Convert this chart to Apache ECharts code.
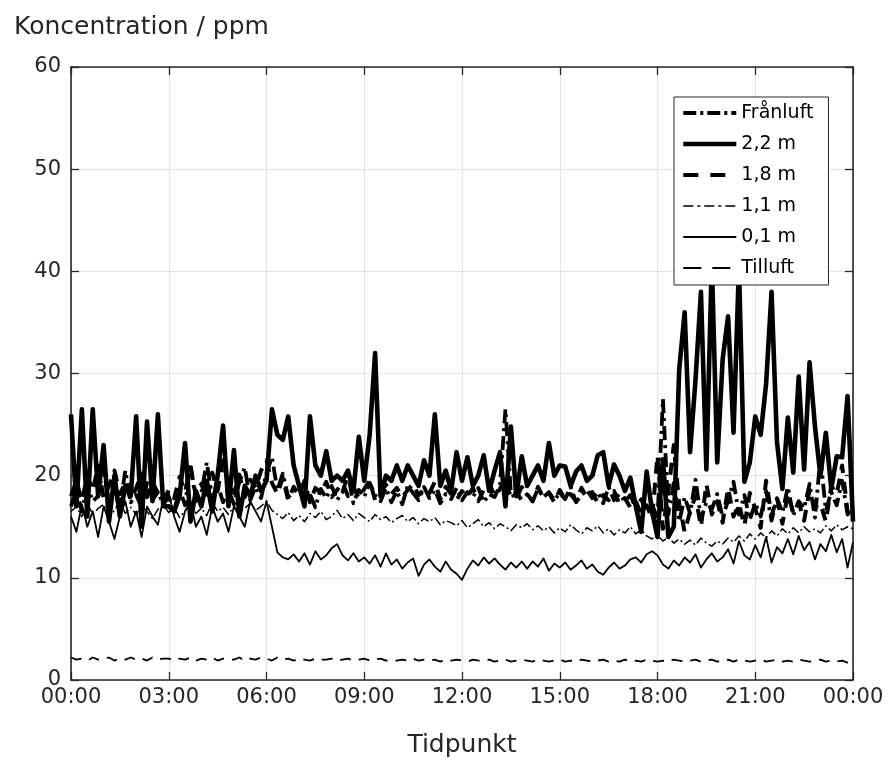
<!DOCTYPE html>
<html>
<head>
<meta charset="utf-8">
<script src="https://cdn.jsdelivr.net/npm/echarts@6/dist/echarts.min.js"></script>
<style>
html,body{margin:0;padding:0;background:#fff;}
#chart{width:888px;height:763px;}
</style>
</head>
<body>
<div id="chart"></div>
<script>
// Sampling step (minutes) between consecutive readings, 00:00 .. 24:00
const STEP_MIN = 10;
const xTicks = ['00:00','03:00','06:00','09:00','12:00','15:00','18:00','21:00','00:00'];
const yTicks = [0,10,20,30,40,50,60];
const seriesNames = ['Frånluft','2,2 m','1,8 m','1,1 m','0,1 m','Tilluft'];

// one row = one hour (6 readings), last value = 24:00
const franluft = [
  17,18.5,16.5,19,17.5,18,
  21,17.2,18.6,16.8,20.5,17.4,
  18.1,16.9,19.3,17.6,18.4,17.2,
  17.9,16.6,18.7,17.1,21.2,17.5,
  18.3,21.3,17.8,19.1,17.4,18.6,
  17.2,19.4,20.8,17.6,18.9,17.8,
  20.3,21.8,18.6,20.2,17.9,18.4,
  19.1,17.5,18.2,16.9,18.7,17.8,
  19,17.6,18.4,20.1,17.3,18.6,
  17.9,19.3,18.1,17.5,18.8,17.4,
  18.5,17.2,19,18.3,17.6,18.9,
  17.8,18.6,17.3,18.2,17.7,18.8,
  17.6,18.4,17.9,18.8,17.4,18.2,
  17.9,19.1,26.5,18.3,17.7,18.9,
  18.1,17.5,18.7,17.9,18.4,17.6,
  18.3,17.7,18.9,17.4,18.1,18.6,
  17.8,18.4,17.3,18.9,17.6,18.2,
  17.5,18.1,16.8,17.7,16.4,17.2,
  15.8,27.5,16.2,19.3,15.5,17.9,
  16.3,19.6,15.8,17.4,16.7,18.2,
  15.9,17.6,19.4,16.2,18.1,15.7,
  17.3,16,18.5,15.6,17.8,16.4,
  18.9,16.1,17.5,16.8,19.2,15.9,
  21.8,16.6,18.4,17.1,19.5,16.2,
  16.8
];
const m22 = [
  26,17,26.5,16,26.5,18,
  23,15.5,20,16,19,18,
  25.8,15,25.3,17.5,26,17,
  17,16.5,18,23.2,15.5,18.5,
  17,19.5,16.5,20,24.9,17,
  22.5,16,19,18,20,18.5,
  19.5,26.5,24,23.5,25.8,21,
  19,17,25.8,21,20,22.4,
  19.5,20,19.5,20.5,18.5,23.8,
  19.5,24,32,18,20,19.5,
  21,19.5,21,20,19,21.5,
  20,26,19,20.5,18.5,22.3,
  19.5,21.8,19,20,22,18.5,
  20.5,22.3,17,24.8,18,21.9,
  19,20,21,19.5,23.2,20,
  21,20.9,19,20.4,21,19.5,
  20,22,22.3,19,21.1,20,
  18.5,19.8,17,14.5,20.4,16.5,
  14,21.6,14,15,30.4,36,
  22.3,29.4,38,20.6,41,21.3,
  31.4,35.6,24.2,40.5,19.4,21.3,
  25.8,24,29,38,23.3,18.7,
  25.7,20.3,29.7,20.6,31.1,24.8,
  20,24.2,18.7,21.9,21.8,27.8,
  15.5
];
const m18 = [
  18,19.5,17.5,20,18.5,21,
  17.8,19,20.5,18.2,19.3,17.6,
  18.8,20.2,17.9,19.4,18.3,17.5,
  18.6,17.8,19.9,18.4,20.8,18,
  19.2,17.7,20.3,18.5,21.5,19,
  18.3,20.1,17.9,19.6,18.8,20.5,
  21.5,19.3,18.2,19.8,17.6,18.9,
  18.1,19.5,17.4,18.8,18.3,19.4,
  17.9,18.6,19.3,18,18.9,17.8,
  18.7,19.5,17.6,18.4,19.1,18.2,
  18.8,17.9,18.6,19.2,18.1,18.7,
  18.3,19.4,17.7,18.9,18.2,17.6,
  18.5,17.9,18.8,17.5,18.6,19.3,
  18,18.7,19.8,17.8,18.4,17.6,
  18.2,17.5,18.9,17.8,18.3,17.4,
  18.6,17.7,18.2,17.5,18.8,17.9,
  18.4,17.3,18.1,17.6,18.5,17.2,
  17.8,16.9,17.5,16.2,17.1,15.8,
  22,14.8,18.5,23,17.2,14.5,
  16.5,18,15,19.2,16.2,17.5,
  15.4,18.8,16,17.2,15.1,18.3,
  16.8,14.9,19.5,16.1,17.8,15.3,
  18.2,16.4,17.4,15.6,18.6,16.9,
  17.3,15.5,19,18.2,21,16.5,
  16
];
const m11 = [
  16.5,17,16,17.3,16.2,16.8,
  17.2,16,16.6,17.5,16.3,16.9,
  16.2,17,16.5,15.8,16.7,17.1,
  16.4,16.9,15.9,16.6,17.2,16.3,
  16.8,16.1,17.4,16.5,16.9,16.2,
  17,16.4,16.8,17.3,16.6,17,
  17.5,16.6,16.2,15.8,16.4,15.6,
  16.1,15.5,16.3,15.9,16.5,15.7,
  16,16.6,15.8,16.2,15.6,16.3,
  15.9,15.5,16.2,15.7,16,15.4,
  15.8,16.1,15.5,15.9,15.3,15.8,
  15.5,15.9,15.2,15.6,15.4,15.1,
  15.6,14.9,15.3,15.7,15,15.4,
  14.8,15.3,15,14.6,15.2,14.9,
  15.3,14.7,15.1,14.6,15,14.4,
  14.9,14.5,15.2,14.7,14.3,14.9,
  14.6,15.1,14.4,14.8,14.2,14.7,
  14.4,15,14.3,14.7,14.1,13.8,
  14.2,13.6,14,13.4,13.8,13.3,
  13.7,13.2,13.9,13.4,13.1,13.6,
  13.3,13.9,13.5,14.1,13.6,14.3,
  13.8,14.4,13.9,14.6,14.1,14.8,
  14.3,14.9,14.4,15,14.5,14.8,
  14.4,15.1,14.6,15.2,14.7,15,
  14.8
];
const m01 = [
  16,14.5,17.2,15,16.5,14,
  17,15.5,13.8,16,17.5,15,
  16.5,14,17,16,15.2,17.8,
  18.3,16,14.5,16.5,17.5,15,
  16,14.2,17,15.5,16.3,14.5,
  17,16,15,17.5,16.5,15.5,
  17.5,15,12.5,12,11.8,12.3,
  11.6,12.4,11.3,12.6,11.8,12.2,
  12.9,13.3,12.2,11.7,12.4,11.6,
  12,11.4,12.2,11.1,12.4,11.3,
  11.8,10.9,11.5,11.9,10.2,11.3,
  11.8,11.1,10.6,11.6,10.8,10.4,
  9.8,10.9,11.7,11.2,12,11.4,
  11.9,11.3,10.8,11.5,11,11.6,
  10.9,11.6,11.1,11.9,10.7,11.4,
  11,11.5,10.8,11.2,11.7,10.9,
  11.3,10.6,10.3,11,11.5,10.9,
  11.2,11.8,12,11.5,12.3,12.6,
  12.2,11.3,10.9,11.7,11.2,12,
  11.5,12.3,11,11.8,12.4,11.6,
  12,12.8,11.4,13.6,12.2,11.8,
  13.2,12,14,11.5,13,12.4,
  13.8,12.3,14.1,12.7,13.5,11.8,
  13.3,12.6,14.2,12.5,13.8,11,
  13.5
];
const tilluft = [
  2.2,2.0,2.1,1.9,2.2,2.0,
  2.1,2.2,1.9,2.1,2.0,2.2,
  2.0,2.1,1.9,2.2,2.0,2.1,
  2.1,1.9,2.1,2.0,2.2,1.9,
  2.1,2.0,2.2,1.9,2.1,2.0,
  2.0,2.2,1.9,2.1,2.0,2.2,
  2.1,1.9,2.2,2.0,2.1,1.9,
  2.1,2.0,1.9,2.1,2.0,2.0,
  2.1,1.9,2.0,2.1,1.9,2.0,
  2.1,1.9,2.0,2.1,1.9,2.0,
  1.9,2.0,1.9,2.1,1.9,2.0,
  1.9,2.0,1.8,2.0,1.9,2.0,
  1.9,1.8,2.0,1.9,1.9,2.0,
  1.8,1.9,2.0,1.8,1.9,2.0,
  1.9,1.8,2.0,1.9,1.8,1.9,
  2.0,1.8,1.9,1.8,2.0,1.9,
  1.8,1.9,2.0,1.8,1.9,1.8,
  2.0,1.8,1.9,1.8,2.0,1.9,
  1.8,1.9,1.8,2.0,1.9,1.8,
  1.9,2.0,1.8,1.9,2.0,1.8,
  1.9,2.0,1.8,2.0,1.9,1.8,
  1.9,2.0,1.8,1.9,2.0,1.8,
  1.9,1.8,2.0,1.9,1.8,1.9,
  2.0,1.8,1.9,1.8,1.9,1.7,
  1.8
];

const FONT = '"DejaVu Sans", Verdana, sans-serif';
const AX = '#262626';

function toPairs(arr){ return arr.map((v,i)=>[i*STEP_MIN, v]); }
function fmtTime(v){
  const idx = Math.round(v/180);
  return xTicks[idx] !== undefined ? xTicks[idx] : '';
}

const styles = [
  {width:3.8, type:[14,5,3,5]},
  {width:4.6, type:'solid'},
  {width:4.0, type:[12,9]},
  {width:1.5, type:[9,3,2,3]},
  {width:1.8, type:'solid'},
  {width:1.8, type:[11,8]}
];
const legendStyles = [
  {width:3.8, type:[13,4,3,4]},
  {width:4.6, type:'solid'},
  {width:4.2, type:[15,12]},
  {width:1.6, type:[10,4,3,4]},
  {width:1.8, type:'solid'},
  {width:1.8, type:[18,11]}
];
const dataSets = [franluft, m22, m18, m11, m01, tilluft];

const axisCommon = {
  axisLine:{show:true, onZero:false, lineStyle:{color:AX, width:1.6}},
  axisTick:{show:true, inside:true, length:8, lineStyle:{color:AX, width:1.3}}
};

const chart = echarts.init(document.getElementById('chart'), null, {renderer:'canvas'});
chart.setOption({
  animation:false,
  backgroundColor:'#fff',
  title:{
    text:'Koncentration / ppm', left:9, top:10,
    textStyle:{fontFamily:FONT, fontSize:25, fontWeight:'normal', color:'#262626'}
  },
  grid:{left:71, right:35, top:67, bottom:82, show:false},
  legend:{
    orient:'vertical', left:674, top:97,
    padding:[6.5,15,7.5,7],
    itemWidth:53, itemHeight:14, itemGap:12,
    backgroundColor:'#fff', borderColor:'#262626', borderWidth:1, borderRadius:0,
    itemStyle:{color:'rgba(0,0,0,0)', borderWidth:0, opacity:0},
    textStyle:{fontFamily:FONT, fontSize:19, color:'#000'},
    data: seriesNames.map((n,k)=>({
      name:n,
      itemStyle:{color:'rgba(0,0,0,0)', borderWidth:0, opacity:0},
      lineStyle:{color:'#000', width:legendStyles[k].width, type:legendStyles[k].type, opacity:1}
    }))
  },
  xAxis:[Object.assign({
    type:'value', min:0, max:1440, interval:180,
    name:'Tidpunkt', nameLocation:'middle', nameGap:53,
    nameTextStyle:{fontFamily:FONT, fontSize:25, color:'#262626'},
    axisLabel:{formatter:fmtTime, fontFamily:FONT, fontSize:21, color:'#262626', margin:7},
    splitLine:{show:true, lineStyle:{color:'#e3e3e3', width:1}}
  }, axisCommon),
  Object.assign({
    type:'value', position:'top', min:0, max:1440, interval:180,
    axisLabel:{show:false}, splitLine:{show:false}
  }, axisCommon)],
  yAxis:[Object.assign({
    type:'value', min:0, max:60, interval:10,
    axisLabel:{fontFamily:FONT, fontSize:21, color:'#262626', margin:10},
    splitLine:{show:true, lineStyle:{color:'#e3e3e3', width:1}}
  }, axisCommon),
  Object.assign({
    type:'value', position:'right', min:0, max:60, interval:10,
    axisLabel:{show:false}, splitLine:{show:false}
  }, axisCommon)],
  series: seriesNames.map((n,k)=>({
    name:n, type:'line', xAxisIndex:0, yAxisIndex:0,
    data: toPairs(dataSets[k]),
    symbol:'none', showSymbol:false, smooth:false,
    lineStyle:{color:'#000', width:styles[k].width, type:styles[k].type, join:'round', cap:'butt'},
    itemStyle:{color:'#000'},
    z: 2
  }))
});
</script>
</body>
</html>
